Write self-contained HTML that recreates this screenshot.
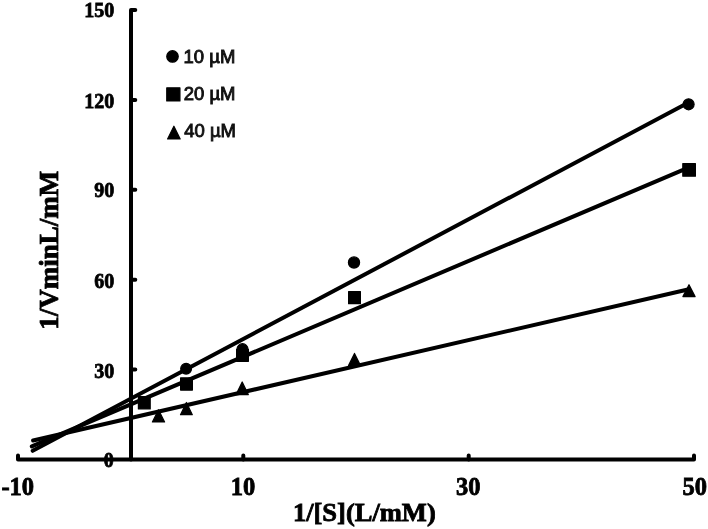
<!DOCTYPE html>
<html><head><meta charset="utf-8">
<style>
html,body{margin:0;padding:0;background:#fff;width:708px;height:529px;overflow:hidden}
svg{display:block;filter:grayscale(1)}
.ax{font-family:"Liberation Serif",serif;font-weight:bold;fill:#000;stroke:#000;stroke-width:0.8px}
.lg{font-family:"Liberation Sans",sans-serif;fill:#111;stroke:#111;stroke-width:0.9px}
</style></head><body>
<svg width="708" height="529" viewBox="0 0 708 529">
<rect width="708" height="529" fill="#fff"/>
<g stroke="#000" stroke-width="4.0" fill="none" stroke-linecap="round" stroke-linejoin="round">
<path d="M135.3,10 L131,10 L131,459.6"/>
<path d="M131,99.9 L135.3,99.9 M131,189.8 L135.3,189.8 M131,279.7 L135.3,279.7 M131,369.6 L135.3,369.6"/>
<path d="M18,455.5 L18,459.6 L694,459.6 L694,455.5"/>
<path d="M243.3,459.6 L243.3,455.5 M468.7,459.6 L468.7,455.5"/>
<path d="M32.7,450.8 L688.6,102.5"/>
<path d="M31.8,446.4 L689,167.4"/>
<path d="M33.1,440.5 L689,289.3"/>
</g>
<g fill="#000" stroke="#000" stroke-width="1.2" stroke-linejoin="round">
<circle cx="186.1" cy="368.7" r="5.40"/>
<circle cx="242.5" cy="349.2" r="5.50"/>
<circle cx="354.0" cy="262.5" r="5.60"/>
<circle cx="688.6" cy="104.3" r="5.50"/>
<rect x="138.40" y="396.70" width="11.80" height="12.20"/>
<rect x="180.60" y="377.90" width="11.80" height="12.20"/>
<rect x="236.60" y="349.25" width="11.80" height="12.10"/>
<rect x="348.60" y="291.50" width="11.80" height="12.20"/>
<rect x="682.80" y="163.60" width="12.60" height="12.60"/>
<path d="M158.50,409.80 L164.60,422.00 L152.40,422.00Z"/>
<path d="M186.40,402.50 L192.30,414.70 L180.50,414.70Z"/>
<path d="M242.20,382.00 L248.30,394.60 L236.10,394.60Z"/>
<path d="M354.50,353.40 L360.50,365.40 L348.50,365.40Z"/>
<path d="M689.00,284.70 L695.10,296.60 L682.90,296.60Z"/>
<circle cx="172.5" cy="56.4" r="5.75"/>
<rect x="166.75" y="87.80" width="13.20" height="13.20"/>
<path d="M173.90,126.20 L180.20,139.00 L167.60,139.00Z"/>
</g>
<g class="lg" font-size="18.3">
<text transform="translate(183.6,62.7) scale(1.01,1)">10 µM</text>
<text transform="translate(183.8,100.1) scale(1.01,1)">20 µM</text>
<text transform="translate(184.3,137.2) scale(1.01,1)">40 µM</text>
</g>
<g class="ax" font-size="21.9" text-anchor="end">
<text transform="translate(114.2,17.3) scale(0.915,1)">150</text>
<text transform="translate(114.2,107.6) scale(0.915,1)">120</text>
<text transform="translate(114.2,197.2) scale(0.915,1)">90</text>
<text transform="translate(114.2,287.7) scale(0.915,1)">60</text>
<text transform="translate(114.2,377.75) scale(0.915,1)">30</text>
<text transform="translate(113.8,467.0) scale(0.915,1)">0</text>
</g>
<g class="ax" font-size="24.5">
<text x="1.4" y="495.4">-10</text>
<text x="230.7" y="495.4">10</text>
<text x="455.9" y="495.4">30</text>
<text x="682.4" y="495.4">50</text>
</g>
<text class="ax" font-size="26" transform="translate(292.9,521.2) scale(1.02,1)">1/[S](L/mM)</text>
<text class="ax" font-size="27" transform="translate(57.5,329.8) rotate(-90)">1/VminL/mM</text>
</svg>
</body></html>
